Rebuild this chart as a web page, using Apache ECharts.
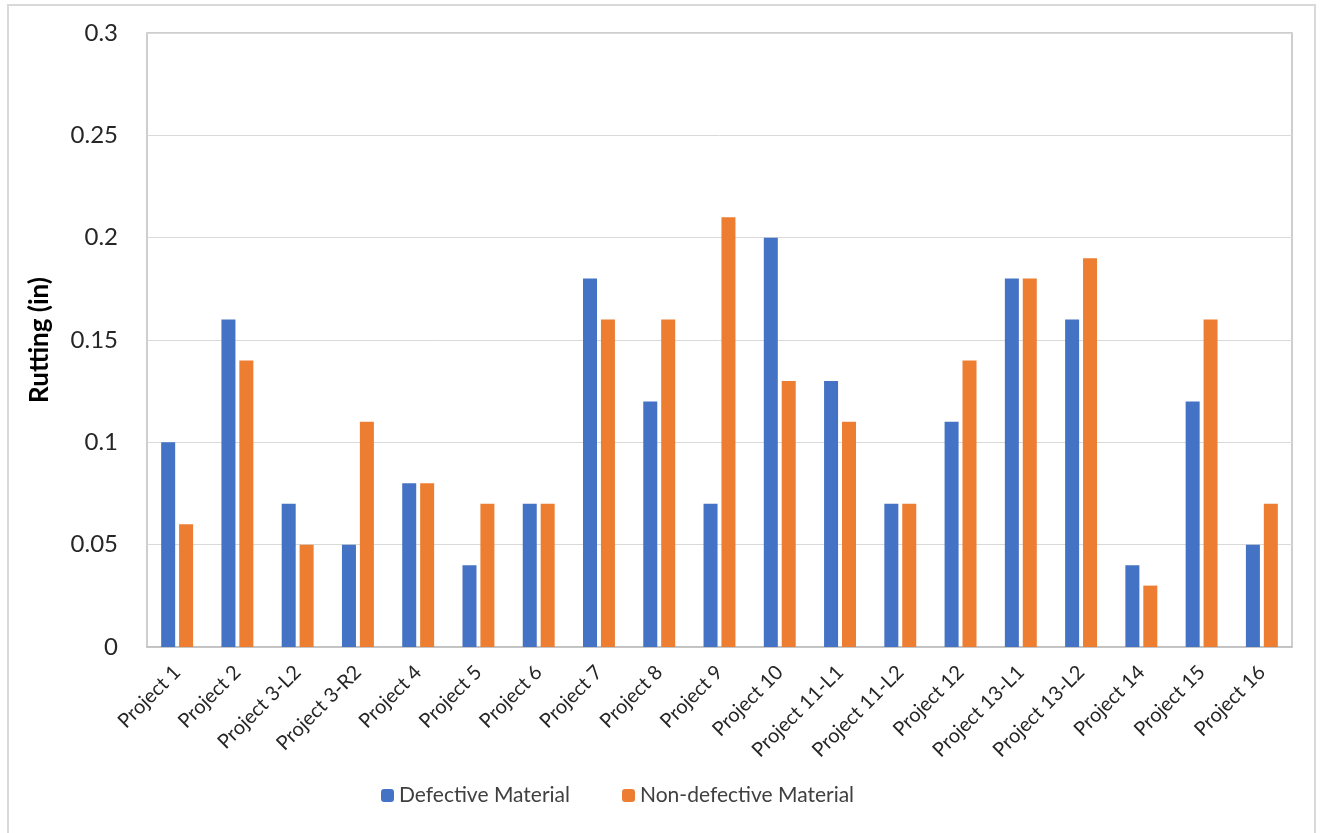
<!DOCTYPE html>
<html>
<head>
<meta charset="utf-8">
<script src="https://cdn.jsdelivr.net/npm/echarts@6/dist/echarts.min.js"></script>
<style>
html,body{margin:0;padding:0;background:#fff;}
#frame{position:absolute;left:7px;top:4px;width:1309px;height:836px;border:2px solid #d9d9d9;box-sizing:border-box;}
#chart{position:absolute;left:0;top:0;width:1323px;height:833px;}
</style>
</head>
<body>
<div id="frame"></div>
<div id="chart"></div>
<script>
const categories = ["Project 1","Project 2","Project 3-L2","Project 3-R2","Project 4","Project 5","Project 6","Project 7","Project 8","Project 9","Project 10","Project 11-L1","Project 11-L2","Project 12","Project 13-L1","Project 13-L2","Project 14","Project 15","Project 16"];
const defective = [0.10,0.16,0.07,0.05,0.08,0.04,0.07,0.18,0.12,0.07,0.20,0.13,0.07,0.11,0.18,0.16,0.04,0.12,0.05];
const nonDefective = [0.06,0.14,0.05,0.11,0.08,0.07,0.07,0.16,0.16,0.21,0.13,0.11,0.07,0.14,0.18,0.19,0.03,0.16,0.07];
const yTicks = {min:0, max:0.3, interval:0.05};

const chart = echarts.init(document.getElementById('chart'), null, {renderer:'canvas'});
const font = 'Lato, "Noto Sans", sans-serif';
chart.setOption({
  animation:false,
  backgroundColor:'transparent',
  textStyle:{fontFamily:font},
  grid:{left:147,right:31,top:33,bottom:186,show:true,borderColor:'#bfbfbf',borderWidth:1.5},
  legend:{
    bottom:22,left:376,
    itemWidth:13,itemHeight:13,itemGap:52,
    textStyle:{fontSize:21,color:'#404040',fontFamily:font},
    data:['Defective Material','Non-defective Material']
  },
  xAxis:{
    type:'category',data:categories,
    axisTick:{show:false},
    axisLine:{lineStyle:{color:'#bfbfbf',width:1.5}},
    axisLabel:{rotate:45,fontSize:20,color:'#262626',margin:22,interval:0,fontFamily:font}
  },
  yAxis:{
    type:'value',min:yTicks.min,max:yTicks.max,interval:yTicks.interval,
    name:'Rutting (in)',nameLocation:'middle',nameGap:94,
    nameTextStyle:{fontSize:26,fontWeight:'bold',color:'#000',fontFamily:font},
    axisLine:{show:false},axisTick:{show:false},
    axisLabel:{fontSize:24,color:'#262626',margin:29,fontFamily:font,formatter:v=>String(+v.toFixed(2))},
    splitLine:{lineStyle:{color:'#d9d9d9',width:1}}
  },
  series:[
    {name:'Defective Material',type:'bar',data:defective,barWidth:14,barGap:'28%',itemStyle:{color:'#4472C4'}},
    {name:'Non-defective Material',type:'bar',data:nonDefective,barWidth:14,barGap:'28%',itemStyle:{color:'#ED7D31'}}
  ]
});
</script>
</body>
</html>
